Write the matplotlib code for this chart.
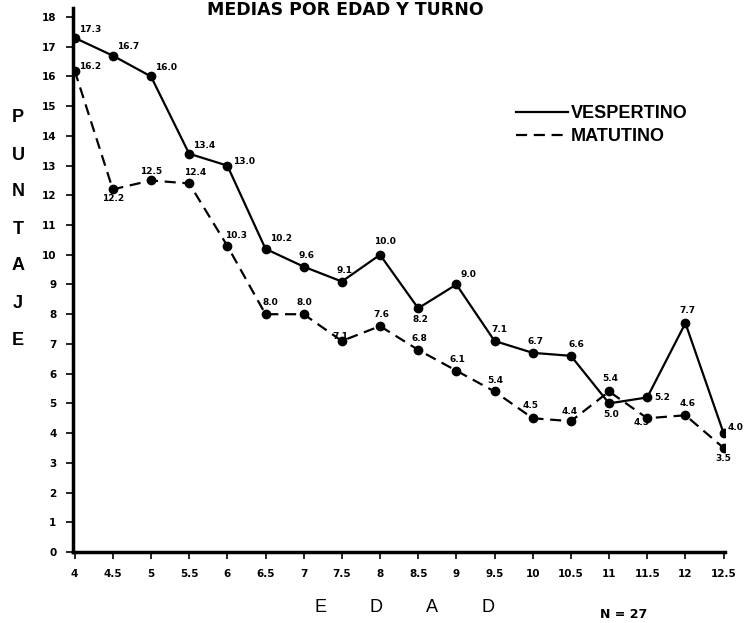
import matplotlib.pyplot as plt

edad = [4, 4.5, 5, 5.5, 6, 6.5, 7, 7.5, 8, 8.5, 9, 9.5, 10, 10.5, 11, 11.5, 12, 12.5]
edad_labels = ['4', '4.5', '5', '5.5', '6', '6.5', '7', '7.5', '8', '8.5', '9',
               '9.5', '10', '10.5', '11', '11.5', '12', '12.5']
vespertino = [17.3, 16.7, 16.0, 13.4, 13.0, 10.2, 9.6, 9.1, 10.0, 8.2, 9.0, 7.1,
              6.7, 6.6, 5.0, 5.2, 7.7, 4.0]
matutino = [16.2, 12.2, 12.5, 12.4, 10.3, 8.0, 8.0, 7.1, 7.6, 6.8, 6.1, 5.4,
            4.5, 4.4, 5.4, 4.5, 4.6, 3.5]
vesp_txt = ['17.3', '16.7', '16.0', '13.4', '13.0', '10.2', '9.6', '9.1', '10.0', '8.2',
            '9.0', '7.1', '6.7', '6.6', '5.0', '5.2', '7.7', '4.0']
mat_txt = ['16.2', '12.2', '12.5', '12.4', '10.3', '8.0', '8.0', '7.1', '7.6', '6.8',
           '6.1', '5.4', '4.5', '4.4', '5.4', '4.5', '4.6', '3.5']
y_ticks = list(range(0, 19))

# label offsets in points (dx, dy)
vesp_off = [(3, 3), (3, 3), (3, 3), (3, 3), (4, 0), (3, 4), (-4, 5), (-4, 5), (-4, 6),
            (-4, -11), (3, 4), (-2, 5), (-4, 5), (-2, 5), (-4, -11), (5, -3), (-4, 6), (3, 1)]
mat_off = [(3, 0), (-8, -10), (-8, 3), (-4, 5), (-2, 4), (-2, 5), (-5, 5), (-7, 0), (-5, 5),
           (-5, 5), (-5, 5), (-5, 5), (-7, 6), (-7, 4), (-5, 6), (-10, -6), (-4, 5), (-6, -11)]

fig = plt.figure(figsize=(7.46, 6.23), dpi=100)
ax = fig.add_axes([0.098, 0.114, 0.874, 0.873])

ax.plot(edad, vespertino, color='black', lw=1.6, marker='o', ms=6, label='VESPERTINO')
ax.plot(edad, matutino, color='black', lw=1.6, ls=(0, (5, 3)), marker='o', ms=6,
        label='MATUTINO')

for x, y, t, o in zip(edad, vespertino, vesp_txt, vesp_off):
    ax.annotate(t, (x, y), xytext=o, textcoords='offset points', fontsize=6.5,
                fontweight='bold', ha='left', va='bottom')
for x, y, t, o in zip(edad, matutino, mat_txt, mat_off):
    ax.annotate(t, (x, y), xytext=o, textcoords='offset points', fontsize=6.5,
                fontweight='bold', ha='left', va='bottom')

ax.set_xlim(3.98, 12.52)
ax.set_ylim(0, 18.3)
ax.set_xticks(edad)
ax.set_xticklabels(edad_labels, fontsize=7.5, fontweight='bold')
ax.set_yticks(y_ticks)
ax.set_yticklabels([str(v) for v in y_ticks], fontsize=7.5, fontweight='bold')
ax.tick_params(axis='both', direction='out', length=5, width=1.2, pad=7)
ax.spines['top'].set_visible(False)
ax.spines['right'].set_visible(False)
ax.spines['left'].set_linewidth(2.5)
ax.spines['bottom'].set_linewidth(2.5)

fig.text(345 / 746, 1 - 1 / 623, 'MEDIAS POR EDAD Y TURNO', ha='center', va='top',
         fontsize=12.5, fontweight='heavy')

for i, ch in enumerate('PUNTAJE'):
    fig.text(18 / 746, 1 - (118 + i * 37) / 623, ch, ha='center', va='center',
             fontsize=13, fontweight='bold', family='Liberation Sans')
for i, ch in enumerate('EDAD'):
    fig.text((320 + i * 56) / 746, 1 - 608 / 623, ch, ha='center', va='center',
             fontsize=13, family='Liberation Sans')

fig.text(600 / 746, 2 / 623, 'N = 27', ha='left', va='bottom', fontsize=9,
         fontweight='bold')

ax.legend(loc='upper left', bbox_to_anchor=(507 / 746, 1 - 96 / 623),
          bbox_transform=fig.transFigure, frameon=False,
          handlelength=2.9, handletextpad=0.15, borderpad=0, labelspacing=0.35,
          prop={'family': 'Liberation Sans', 'size': 13, 'weight': 'bold'})
for h in ax.get_legend().legend_handles:
    h.set_marker('')

fig.savefig('out.png', dpi=100)
